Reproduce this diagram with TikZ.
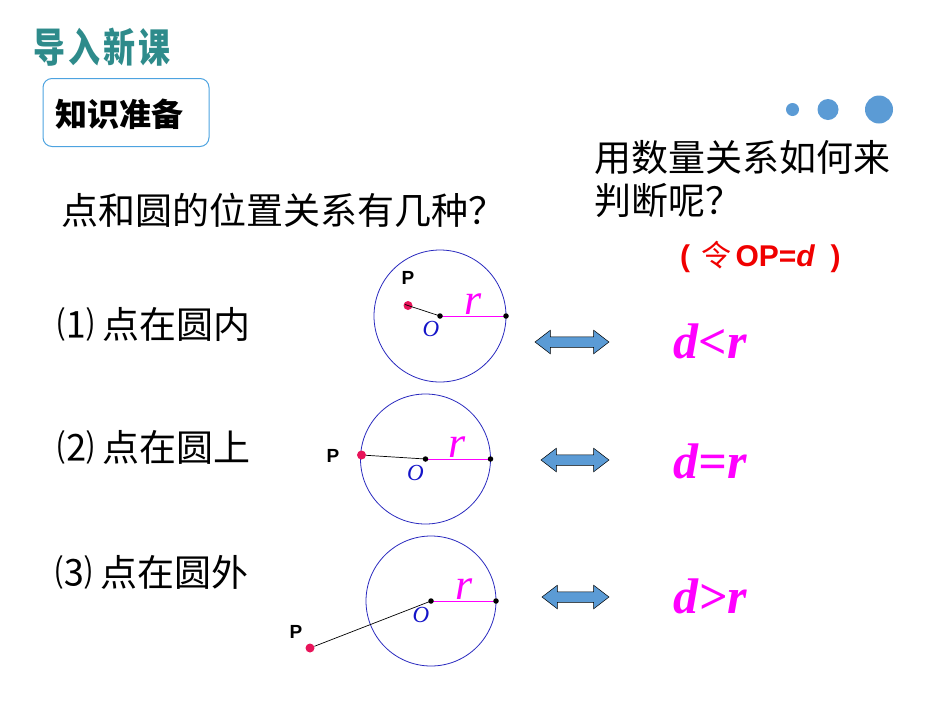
\documentclass[tikz,border=0pt]{standalone}
\usepackage{fontspec}
\setmainfont{Liberation Serif}
\newfontfamily\cjk{Noto Sans CJK SC}
\newfontfamily\lsans{Liberation Sans}
\usetikzlibrary{shapes.arrows}
\definecolor{titleteal}{RGB}{46,139,139}
\definecolor{boxblue}{RGB}{77,163,224}
\definecolor{dotblue}{RGB}{91,155,213}
\definecolor{circblue}{RGB}{40,40,190}
\definecolor{pdot}{RGB}{232,20,90}
\definecolor{relmag}{RGB}{255,0,255}
\definecolor{letred}{RGB}{240,0,0}
\definecolor{oblue}{RGB}{20,20,200}

\begin{document}
\begin{tikzpicture}[x=1pt,y=-1pt,
  cjk text/.style={font=\cjk\fontsize{37}{42}\selectfont,inner sep=0pt,anchor=west},
  circ/.style={draw=circblue,line width=0.8pt},
  center dot/.style={circle,fill=black,inner sep=0pt,minimum size=5.5pt},
  point p/.style={circle,fill=pdot,inner sep=0pt,minimum size=9pt},
  p label/.style={font=\lsans\bfseries\fontsize{19}{22}\selectfont,inner sep=0pt},
  o label/.style={font=\itshape\fontsize{23}{26}\selectfont,text=oblue,inner sep=0pt},
  r label/.style={font=\itshape\fontsize{44}{48}\selectfont,text=relmag,inner sep=0pt,anchor=base},
  radius line/.style={draw=relmag,line width=0.9pt},
  dist line/.style={draw=black,line width=0.7pt},
  both arrow/.style={double arrow,draw=black,line width=0.5pt,fill=dotblue,
    inner sep=5pt,minimum width=23pt,double arrow head extend=6.5pt,double arrow tip angle=75},
  rel text/.style={font=\bfseries\itshape\fontsize{50}{54}\selectfont,text=relmag,inner sep=0pt,anchor=base}]
  \useasboundingbox (0,0) rectangle (950,713);

  % heading
  \node[anchor=west,inner sep=0pt,text=titleteal,font=\cjk\bfseries\fontsize{40}{44}\selectfont]
    (title) at (33,47) {\scalebox{0.8}[1]{导\hspace{4pt}入\hspace{4pt}新\hspace{4pt}课}};
  \node[draw=boxblue,line width=1pt,rounded corners=9pt,minimum width=166pt,minimum height=68pt]
    (box) at (126,112.5) {};
  \node[anchor=west,inner sep=0pt,font=\cjk\bfseries\fontsize{32}{36}\selectfont]
    (boxtext) at (55,114) {知识准备};
  \fill[dotblue] (792.5,109.5) circle (6.5) (828,109.5) circle (10.5) (879,109.5) circle (14);

  % questions
  \node[cjk text] (ask1) at (61,210) {点和圆的位置关系有几种？};
  \node[cjk text] (ask2a) at (594,158) {用数量关系如何来};
  \node[cjk text] (ask2b) at (594,201) {判断呢？};
  \node[anchor=west,inner sep=0pt,text=letred,font=\lsans\bfseries\fontsize{30}{34}\selectfont]
    (let) at (680,257) {(\hspace{3pt} {\cjk\mdseries 令}\hspace{4pt}OP=\textit{d}\hspace{7pt} )};

  \node[cjk text] (case1) at (57,324) {⑴ 点在圆内};
  \node[cjk text] (case2) at (57,447) {⑵ 点在圆上};
  \node[cjk text] (case3) at (55,572) {⑶ 点在圆外};

  % circle 1: inside
  \coordinate (O1) at (440,316);
  \coordinate (R1) at (506,316);
  \draw[circ] (O1) circle (66);
  \node[point p] (P1) at (408,305.5) {};
  \path (P1) edge[dist line,shorten <=-8pt] (O1)
        (O1) edge[radius line] (R1);
  \node[center dot] at (O1) {};
  \node[center dot] at (R1) {};
  \node[p label] (p1) at (408,278) {P};
  \node[o label] (o1) at (431,329) {O};
  \node[r label] (r1) at (473,314) {r};

  % circle 2: on
  \coordinate (O2) at (425.5,459);
  \coordinate (R2) at (490.5,459);
  \draw[circ] (O2) circle (65);
  \node[point p] (P2) at (361.5,455) {};
  \path (P2) edge[dist line] (O2)
        (O2) edge[radius line] (R2);
  \node[center dot] at (O2) {};
  \node[center dot] at (R2) {};
  \node[p label] (p2) at (333,456) {P};
  \node[o label] (o2) at (415.5,472.5) {O};
  \node[r label] (r2) at (457,457) {r};

  % circle 3: outside
  \coordinate (O3) at (431,601);
  \coordinate (R3) at (496,601);
  \draw[circ] (O3) circle (65);
  \node[point p] (P3) at (310,648) {};
  \path (P3) edge[dist line] (O3)
        (O3) edge[radius line] (R3);
  \node[center dot] at (O3) {};
  \node[center dot] at (R3) {};
  \node[p label] (p3) at (296,632) {P};
  \node[o label] (o3) at (421,615) {O};
  \node[r label] (r3) at (464,599) {r};

  % arrows and relations
  \node[both arrow,minimum height=74pt] (a1) at (572,342) {};
  \node[both arrow,minimum height=68pt] (a2) at (575,460) {};
  \node[both arrow,minimum height=67pt] (a3) at (575.5,597) {};
  \node[rel text] (d1) at (710,358) {d<r};
  \node[rel text] (d2) at (710,478) {d=r};
  \node[rel text] (d3) at (710,613) {d>r};
\end{tikzpicture}
\end{document}
